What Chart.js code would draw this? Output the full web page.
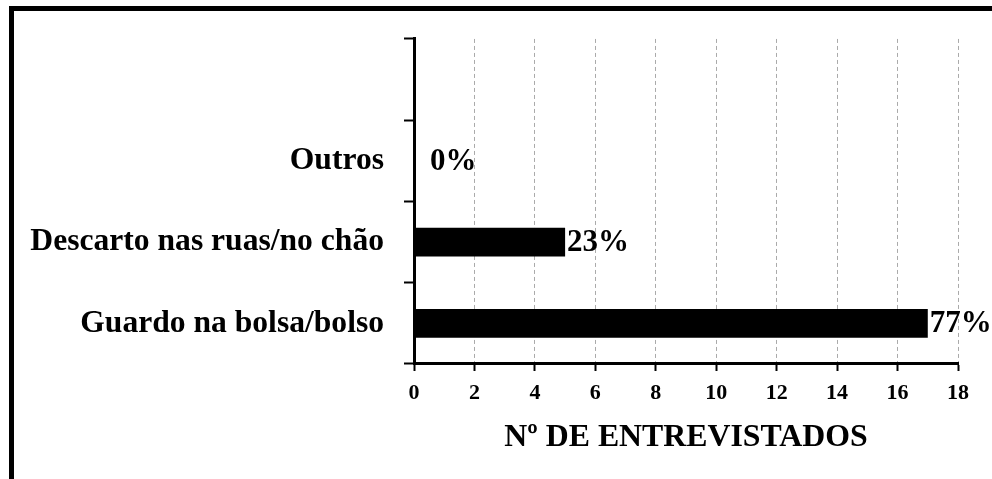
<!DOCTYPE html>
<html lang="pt">

<head>
    <meta charset="UTF-8">
    <title>Nº de entrevistados</title>
    <script src="https://cdn.jsdelivr.net/npm/chart.js"></script>
    <style>
        html, body { margin: 0; padding: 0; background: #fff; overflow: hidden; }
        #wrap { position: relative; width: 992px; height: 479px; }
        #frame {
            position: absolute; left: 9px; top: 6px; width: 1200px; height: 600px;
            border-left: 5px solid #000; border-top: 5px solid #000; pointer-events: none;
        }
    </style>
</head>

<body>
    <div id="wrap">
        <canvas id="chart" width="992" height="479"></canvas>
        <div id="frame"></div>
    </div>

    <script>
        // categories, top to bottom (first one is empty in the original)
        const categories = ['', 'Outros', 'Descarto nas ruas/no chão', 'Guardo na bolsa/bolso'];
        const counts = [null, 0, 5, 17];
        const xTicks = [0, 2, 4, 6, 8, 10, 12, 14, 16, 18];

        const total = counts.reduce((s, v) => s + (v || 0), 0);
        const serif = 'Liberation Serif, Times New Roman, serif';

        // percentage labels next to the bars
        const pctLabels = {
            id: 'pctLabels',
            afterDatasetsDraw(chart) {
                const ctx = chart.ctx;
                const meta = chart.getDatasetMeta(0);
                const left = chart.chartArea.left;
                ctx.save();
                ctx.font = 'bold 31px ' + serif;
                ctx.fillStyle = '#000';
                ctx.textAlign = 'left';
                ctx.textBaseline = 'middle';
                meta.data.forEach((bar, i) => {
                    const v = counts[i];
                    if (v === null) return;
                    const txt = Math.round(v / total * 100) + '%';
                    const x = Math.max(bar.x + 2, left + 16);
                    ctx.fillText(txt, x, bar.y + 1);
                });
                ctx.restore();
            }
        };

        new Chart(document.getElementById('chart'), {
            type: 'bar',
            data: {
                labels: categories,
                datasets: [{
                    data: counts,
                    backgroundColor: '#000',
                    borderWidth: 0,
                    barPercentage: 0.356,
                    categoryPercentage: 1
                }]
            },
            options: {
                indexAxis: 'y',
                responsive: false,
                animation: false,
                layout: { padding: { top: 38, right: 34, left: 0, bottom: 0 } },
                plugins: { legend: { display: false }, tooltip: { enabled: false } },
                scales: {
                    y: {
                        afterFit: s => { s.width = 414; },
                        grid: {
                            drawOnChartArea: false,
                            tickLength: 10,
                            tickColor: '#000',
                            tickWidth: 2
                        },
                        border: { color: '#000', width: 3 },
                        ticks: {
                            color: '#000',
                            padding: 20,
                            font: { family: serif, size: 31.6, weight: 'bold' }
                        }
                    },
                    x: {
                        min: 0,
                        max: 18,
                        afterFit: s => { s.height = 115; },
                        afterBuildTicks: s => { s.ticks = xTicks.map(v => ({ value: v })); },
                        grid: {
                            color: '#aaaaaa',
                            lineWidth: 1,
                            tickColor: '#000',
                            tickWidth: 2,
                            tickLength: 7,
                            tickBorderDash: [],
                            drawTicks: true
                        },
                        // in v4 border.dash styles the grid lines, the axis line stays solid
                        border: { color: '#000', width: 3, dash: [4, 3] },
                        ticks: {
                            color: '#000',
                            padding: 9,
                            font: { family: serif, size: 22, weight: 'bold' }
                        },
                        title: {
                            display: true,
                            text: 'Nº DE ENTREVISTADOS',
                            color: '#000',
                            padding: { top: 0, bottom: 22 },
                            font: { family: serif, size: 31.8, weight: 'bold' }
                        }
                    }
                }
            },
            plugins: [pctLabels]
        });
    </script>
</body>

</html>
